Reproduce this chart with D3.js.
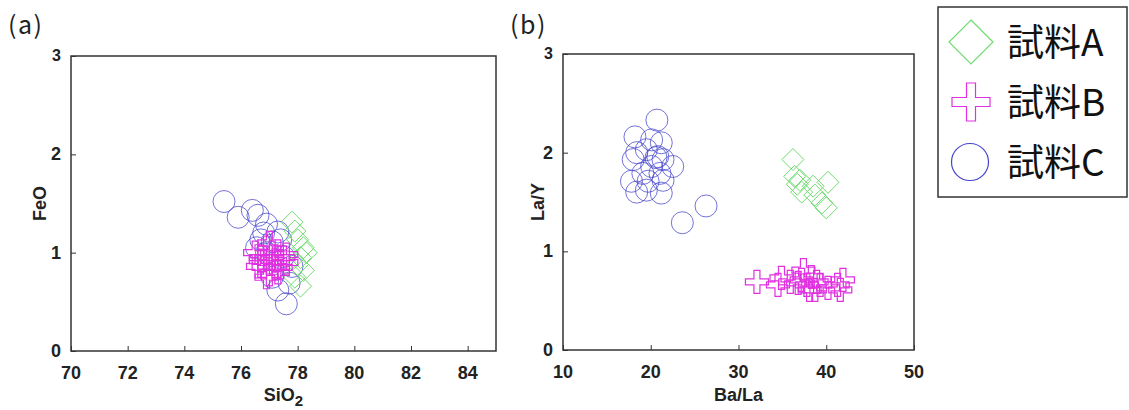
<!DOCTYPE html>
<html>
<head>
<meta charset="utf-8">
<script src="https://cdn.jsdelivr.net/npm/d3@7"></script>
<style>
  body { margin: 0; background: #fff; }
  svg { display: block; }
  .tick-label { font-family: "Liberation Sans", Arial, sans-serif; font-weight: bold; font-size: 18px; fill: #222; }
  .axis-title { font-family: "Liberation Sans", Arial, sans-serif; font-weight: bold; font-size: 18px; fill: #222; }
  .panel-label { font-family: "Noto Sans CJK JP", "DejaVu Sans", sans-serif; font-size: 25px; letter-spacing: 1.5px; fill: #222; }
  .legend-label { font-family: "Noto Sans CJK JP", sans-serif; font-size: 37px; fill: #111; }
</style>
</head>
<body>
<svg id="chart" width="1129" height="410"></svg>
<script>
// 図(a): SiO2 - FeO
var a_sampleA = [[77.8, 1.31], [77.9, 1.22], [78.0, 1.13], [78.2, 1.05], [78.3, 1.0], [78.1, 0.95],
  [78.2, 0.82], [78.0, 0.88], [78.1, 0.66], [77.9, 0.75]];
var a_sampleB = [[76.5, 1.0], [76.7, 0.95], [76.9, 1.05], [77.1, 1.0], [77.3, 0.95], [77.5, 0.95],
  [77.6, 0.9], [77.0, 0.9], [76.8, 0.85], [76.6, 0.86], [77.2, 0.85], [77.4, 0.85], [77.0, 0.78],
  [76.9, 0.75], [77.3, 0.8], [77.0, 1.1], [76.7, 0.92], [77.2, 0.92], [77.6, 0.98], [76.9, 0.95]];
var a_sampleC = [[75.4, 1.52], [75.9, 1.36], [76.4, 1.43], [76.6, 1.38], [76.9, 1.29], [76.8, 1.2],
  [77.3, 1.21], [76.7, 1.13], [77.1, 1.11], [77.4, 1.13], [76.55, 1.05], [76.9, 1.0], [77.5, 0.96],
  [77.8, 0.86], [77.7, 0.69], [77.6, 0.48], [77.3, 0.62], [77.1, 0.75]];

// 図(b): Ba/La - La/Y
var b_sampleA = [[36.2, 1.93], [36.4, 1.76], [37.0, 1.72], [37.2, 1.6], [38.5, 1.66], [38.7, 1.57],
  [40.2, 1.7], [39.5, 1.49], [40.0, 1.44], [36.7, 1.68]];
var b_sampleB = [[32.1, 0.69], [34.5, 0.66], [34.9, 0.73], [35.9, 0.69], [37.4, 0.81], [37.2, 0.71],
  [37.8, 0.66], [38.3, 0.74], [38.7, 0.61], [39.3, 0.66], [40.2, 0.63], [41.3, 0.66], [41.9, 0.71],
  [41.6, 0.61], [38.1, 0.61], [38.9, 0.69], [36.8, 0.68]];
var b_sampleC = [[20.7, 2.33], [18.2, 2.16], [20.1, 2.13], [21.2, 2.1], [18.4, 2.0], [19.5, 2.03],
  [18.0, 1.93], [20.8, 1.96], [21.4, 1.93], [20.1, 1.86], [22.5, 1.86], [19.1, 1.79], [21.05, 1.79],
  [17.8, 1.71], [19.7, 1.71], [21.4, 1.72], [18.4, 1.6], [19.5, 1.62], [21.2, 1.59], [23.6, 1.29],
  [26.3, 1.46], [20.6, 1.95]];

// 目盛り
var xTicksA = [70, 72, 74, 76, 78, 80, 82, 84];
var xTicksB = [10, 20, 30, 40, 50];
var yTicks = [0, 1, 2, 3];
var seriesNames = ["試料A", "試料B", "試料C"];

var colorA = "#6fdc6f", colorB = "#e030e0", colorC = "#4444cc";

var svg = d3.select("#chart");
svg.append("rect").attr("width", 1129).attr("height", 410).attr("fill", "#fff");

// 記号の形
function diamondPath(r) {
  return "M0," + (-r) + "L" + r + ",0L0," + r + "L" + (-r) + ",0Z";
}
function crossPath(s, t) {
  return "M" + (-t) + "," + (-s) + "H" + t + "V" + (-t) + "H" + s + "V" + t + "H" + t + "V" + s +
    "H" + (-t) + "V" + t + "H" + (-s) + "V" + (-t) + "H" + (-t) + "Z";
}

function drawPanel(opt) {
  var x = d3.scaleLinear().domain(opt.xDomain).range([opt.left, opt.right]);
  var y = d3.scaleLinear().domain([0, 3]).range([opt.bottom, opt.top]);
  var g = svg.append("g");

  // 枠
  g.append("rect")
    .attr("x", opt.left).attr("y", opt.top)
    .attr("width", opt.right - opt.left).attr("height", opt.bottom - opt.top)
    .attr("fill", "none").attr("stroke", "#333").attr("stroke-width", 1.5);

  // 軸 (内向きの目盛り)
  g.append("g")
    .attr("transform", "translate(0," + opt.bottom + ")")
    .call(d3.axisBottom(x).tickValues(opt.xTicks).tickSize(-5).tickFormat(""))
    .call(function(s) { s.select(".domain").remove(); s.selectAll("line").attr("stroke", "#333"); });
  g.append("g")
    .attr("transform", "translate(" + opt.left + ",0)")
    .call(d3.axisLeft(y).tickValues(yTicks).tickSize(-5).tickFormat(""))
    .call(function(s) { s.select(".domain").remove(); s.selectAll("line").attr("stroke", "#333"); });

  g.selectAll(".xl").data(opt.xTicks).enter().append("text")
    .attr("class", "tick-label")
    .attr("x", function(d) { return x(d); })
    .attr("y", opt.bottom + 28)
    .attr("text-anchor", "middle")
    .text(function(d) { return d; });
  g.selectAll(".yl").data(yTicks).enter().append("text")
    .attr("class", "tick-label")
    .attr("x", opt.left - 10)
    .attr("y", function(d) { return y(d) + (d === 3 ? 5 : 6); })
    .attr("text-anchor", "end")
    .style("font-size", function(d) { return d === 3 ? "16px" : null; })
    .text(function(d) { return d; });

  // 点
  g.selectAll(".c").data(opt.C).enter().append("circle")
    .attr("cx", function(d) { return x(d[0]); })
    .attr("cy", function(d) { return y(d[1]); })
    .attr("r", 11)
    .attr("fill", "none").attr("stroke", colorC).attr("stroke-opacity", 0.75).attr("stroke-width", 1);
  g.selectAll(".a").data(opt.A).enter().append("path")
    .attr("d", diamondPath(11))
    .attr("transform", function(d) { return "translate(" + x(d[0]) + "," + y(d[1]) + ")"; })
    .attr("fill", "none").attr("stroke", colorA).attr("stroke-width", 1);
  g.selectAll(".b").data(opt.B).enter().append("path")
    .attr("d", crossPath(11.5, 3))
    .attr("transform", function(d) { return "translate(" + x(d[0]) + "," + y(d[1]) + ")"; })
    .attr("fill", "none").attr("stroke", colorB).attr("stroke-width", 1.2);

  // 軸ラベル
  var xt = g.append("text").attr("class", "axis-title")
    .attr("x", (opt.left + opt.right) / 2).attr("y", 401).attr("text-anchor", "middle");
  xt.append("tspan").text(opt.xTitle);
  if (opt.xSub) {
    xt.append("tspan").attr("dy", 5).attr("font-size", "15px").text(opt.xSub);
  }
  g.append("text").attr("class", "axis-title")
    .attr("transform", "translate(" + opt.yTitleX + "," + ((opt.top + opt.bottom) / 2) + ") rotate(-90)")
    .attr("text-anchor", "middle")
    .text(opt.yTitle);

  g.append("text").attr("class", "panel-label")
    .attr("x", opt.labelX).attr("y", 34)
    .text(opt.label);
}

drawPanel({
  left: 71, right: 496, top: 56, bottom: 351,
  xDomain: [70, 85], xTicks: xTicksA,
  A: a_sampleA, B: a_sampleB, C: a_sampleC,
  xTitle: "SiO", xSub: "2", yTitle: "FeO", yTitleX: 46,
  label: "(a)", labelX: 8
});
drawPanel({
  left: 563, right: 914, top: 54, bottom: 350,
  xDomain: [10, 50], xTicks: xTicksB,
  A: b_sampleA, B: b_sampleB, C: b_sampleC,
  xTitle: "Ba/La", xSub: null, yTitle: "La/Y", yTitleX: 544,
  label: "(b)", labelX: 510
});

// 凡例
var legend = svg.append("g");
legend.append("rect")
  .attr("x", 938).attr("y", 7).attr("width", 189).attr("height", 190)
  .attr("fill", "#fff").attr("stroke", "#333").attr("stroke-width", 1.5);
var legendY = d3.scalePoint().domain(seriesNames).range([42, 162]);
var legendShapes = [
  { d: diamondPath(22), color: colorA },
  { d: crossPath(19, 4.5), color: colorB },
  { d: null, color: colorC }
];
seriesNames.forEach(function(name, i) {
  var cy = legendY(name);
  var sh = legendShapes[i];
  if (sh.d) {
    legend.append("path").attr("d", sh.d)
      .attr("transform", "translate(971," + cy + ")")
      .attr("fill", "none").attr("stroke", sh.color).attr("stroke-width", 1.2);
  } else {
    legend.append("circle").attr("cx", 970).attr("cy", cy).attr("r", 18.5)
      .attr("fill", "none").attr("stroke", sh.color).attr("stroke-width", 1.2);
  }
  legend.append("text").attr("class", "legend-label")
    .attr("x", 1007).attr("y", cy + 14)
    .text(name);
});
</script>
</body>
</html>
